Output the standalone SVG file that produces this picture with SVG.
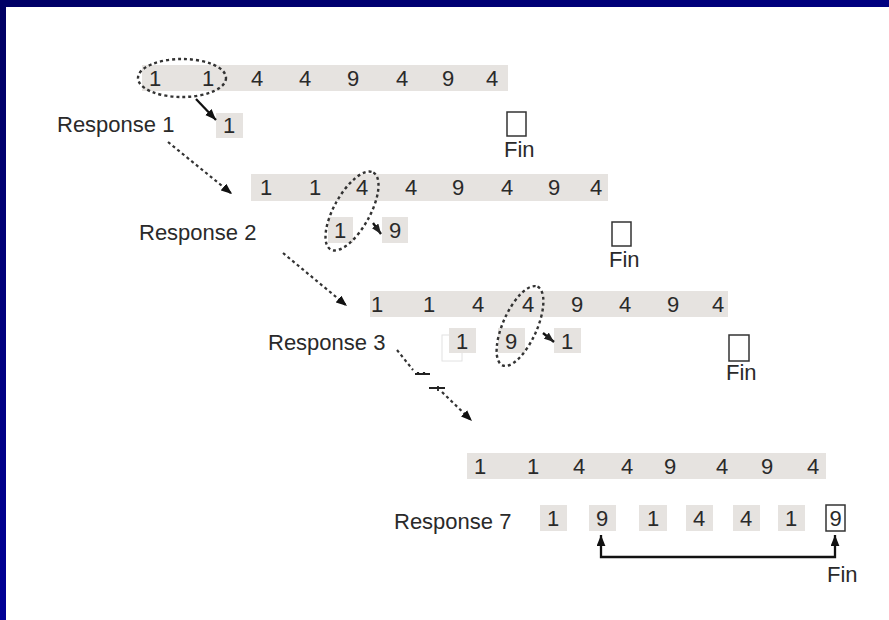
<svg xmlns="http://www.w3.org/2000/svg" width="889" height="620" viewBox="0 0 889 620">
<defs>
<linearGradient id="lb" x1="0" y1="0" x2="0" y2="1"><stop offset="0" stop-color="#000062"/><stop offset="1" stop-color="#000096"/></linearGradient>
<linearGradient id="tb" x1="0" y1="0" x2="1" y2="0"><stop offset="0" stop-color="#000066"/><stop offset="1" stop-color="#000080"/></linearGradient>
<marker id="ah" viewBox="0 0 10 8" refX="10" refY="4" markerWidth="11" markerHeight="9" markerUnits="userSpaceOnUse" orient="auto-start-reverse"><path d="M0,0 L10,4 L0,8 Z" fill="#111"/></marker>
<marker id="ahs" viewBox="0 0 10 8" refX="10" refY="4" markerWidth="10" markerHeight="8" markerUnits="userSpaceOnUse" orient="auto"><path d="M0,0 L10,4 L0,8 Z" fill="#222"/></marker>
<style>
.t{font-family:"Liberation Sans",Arial,sans-serif;font-size:22px;fill:#2a2a2a}
.d{font-family:"Liberation Sans",Arial,sans-serif;font-size:22px;fill:#2a2a2a;text-anchor:middle}
.bar{fill:#e6e3e0}
.bx{fill:#e6e3e0}
.fin{fill:#fff;stroke:#333;stroke-width:1.5}
.ell{fill:none;stroke:#333;stroke-width:2.4;stroke-dasharray:3 3}
.dot{fill:none;stroke:#333;stroke-width:2.2;stroke-dasharray:3 3}
.sol{fill:none;stroke:#111;stroke-width:2.3}
</style>
</defs>
<rect x="0" y="0" width="889" height="620" fill="#fff"/>
<rect x="0" y="0" width="6" height="620" fill="url(#lb)"/>
<rect x="0" y="0" width="889" height="7" fill="url(#tb)"/>

<g id="row1">
<rect class="bar" x="142" y="65" width="366" height="26"/>
<text class="d" y="86"><tspan x="155">1</tspan><tspan x="208">1</tspan><tspan x="257">4</tspan><tspan x="305">4</tspan><tspan x="353">9</tspan><tspan x="402">4</tspan><tspan x="448">9</tspan><tspan x="492">4</tspan></text>
<rect class="bx" x="216" y="113" width="27" height="25"/>
<text class="d" x="229" y="133">1</text>
<text class="t" x="57" y="132">Response 1</text>
<rect class="fin" x="507" y="112" width="19" height="24"/>
<text class="t" x="504" y="157">Fin</text>
<ellipse class="ell" cx="182" cy="78" rx="44" ry="19"/>
</g>

<g id="row2">
<rect class="bar" x="251" y="174" width="357" height="27"/>
<text class="d" y="195"><tspan x="266">1</tspan><tspan x="315">1</tspan><tspan x="362">4</tspan><tspan x="411">4</tspan><tspan x="458">9</tspan><tspan x="507">4</tspan><tspan x="554">9</tspan><tspan x="596">4</tspan></text>
<rect class="bx" x="328" y="217" width="25" height="26"/>
<text class="d" x="340" y="238">1</text>
<rect class="bx" x="382" y="217" width="26" height="26"/>
<text class="d" x="395" y="238">9</text>
<text class="t" x="139" y="240">Response 2</text>
<rect class="fin" x="612" y="222" width="19" height="24"/>
<text class="t" x="609" y="267">Fin</text>
<ellipse class="ell" cx="352" cy="211" rx="44" ry="18" transform="rotate(-61 352 211)"/>
</g>

<g id="row3">
<rect class="bar" x="370" y="291" width="358" height="26"/>
<text class="d" y="312"><tspan x="377">1</tspan><tspan x="429">1</tspan><tspan x="478">4</tspan><tspan x="528">4</tspan><tspan x="577">9</tspan><tspan x="625">4</tspan><tspan x="673">9</tspan><tspan x="718">4</tspan></text>
<rect x="442" y="335" width="20" height="26" fill="#fff" stroke="#e2e2e2" stroke-width="1"/>
<rect class="bx" x="449" y="328" width="27" height="25"/>
<text class="d" x="462" y="349">1</text>
<rect class="bx" x="498" y="328" width="27" height="25"/>
<text class="d" x="511" y="349">9</text>
<rect class="bx" x="554" y="328" width="27" height="25"/>
<text class="d" x="567" y="349">1</text>
<text class="t" x="268" y="350">Response 3</text>
<rect class="fin" x="729" y="335" width="20" height="26"/>
<text class="t" x="726" y="380">Fin</text>
<ellipse class="ell" cx="520" cy="326" rx="43" ry="17" transform="rotate(-66 520 326)"/>
</g>

<g id="row4">
<rect class="bar" x="467" y="453" width="359" height="26"/>
<text class="d" y="474"><tspan x="480">1</tspan><tspan x="533">1</tspan><tspan x="579">4</tspan><tspan x="627">4</tspan><tspan x="670">9</tspan><tspan x="722">4</tspan><tspan x="767">9</tspan><tspan x="813">4</tspan></text>
<rect class="bx" x="540" y="505" width="27" height="26"/>
<text class="d" x="553" y="526">1</text>
<rect class="bx" x="589" y="505" width="27" height="26"/>
<text class="d" x="602" y="526">9</text>
<rect class="bx" x="639" y="505" width="28" height="26"/>
<text class="d" x="653" y="526">1</text>
<rect class="bx" x="686" y="505" width="27" height="26"/>
<text class="d" x="699" y="526">4</text>
<rect class="bx" x="733" y="505" width="27" height="26"/>
<text class="d" x="746" y="526">4</text>
<rect class="bx" x="778" y="505" width="27" height="26"/>
<text class="d" x="791" y="526">1</text>
<rect class="fin" x="826" y="505" width="19" height="26"/>
<text class="d" x="835.5" y="526">9</text>
<text class="t" x="394" y="529">Response 7</text>
<text class="t" x="827" y="582">Fin</text>
</g>

<g id="connectors">
<line class="sol" x1="196" y1="99" x2="216" y2="120" marker-end="url(#ah)"/>
<line class="sol" x1="373" y1="223" x2="381" y2="234" marker-end="url(#ahs)"/>
<line class="sol" x1="543" y1="333" x2="554" y2="342" marker-end="url(#ahs)"/>
<line class="dot" x1="168" y1="142" x2="232" y2="194" marker-end="url(#ah)"/>
<line class="dot" x1="283" y1="253" x2="347" y2="306" marker-end="url(#ah)"/>
<line class="dot" x1="397" y1="350" x2="413" y2="370"/>
<path d="M415,374 H430 M418,372 V375 M424,372 V375" fill="none" stroke="#222" stroke-width="2.2"/>
<path d="M429,388 H445 M438,386 V391" fill="none" stroke="#222" stroke-width="1.8"/>
<line class="dot" x1="442" y1="392" x2="472" y2="421" marker-end="url(#ah)"/>
<path class="sol" d="M601,535 V557 H835 V535" stroke-width="2.6" marker-start="url(#ah)" marker-end="url(#ah)"/>
</g>
</svg>
